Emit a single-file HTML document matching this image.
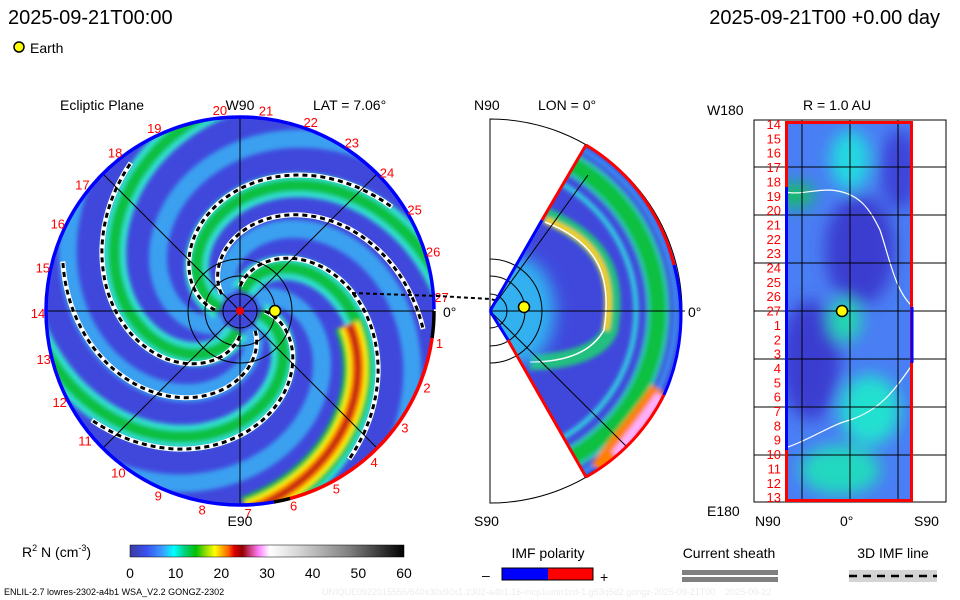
<!DOCTYPE html>
<html><head><meta charset="utf-8"><style>
body{margin:0;background:#fff}
svg{display:block;font-family:"Liberation Sans",sans-serif}
</style></head><body>
<svg id="s" width="960" height="600" viewBox="0 0 960 600">
<defs>
<clipPath id="cc"><circle cx="240" cy="311" r="194"/></clipPath>
<clipPath id="wc"><path d="M490,311 L586,145 A192,192 0 0 1 586,477 Z"/></clipPath>
<clipPath id="rc"><rect x="785" y="122" width="128" height="380"/></clipPath>
<filter id="bl" x="-50%" y="-50%" width="200%" height="200%"><feGaussianBlur stdDeviation="8"/></filter>
<filter id="bl2"><feGaussianBlur stdDeviation="3"/></filter>
<filter id="bl3"><feGaussianBlur stdDeviation="2"/></filter>
<linearGradient id="cb" x1="0" x2="1" y1="0" y2="0">
<stop offset="0" stop-color="#3c3ca0"/><stop offset="0.06" stop-color="#3a50f0"/><stop offset="0.12" stop-color="#3aa0ff"/>
<stop offset="0.16" stop-color="#00ffff"/><stop offset="0.2" stop-color="#00d080"/><stop offset="0.24" stop-color="#00c000"/>
<stop offset="0.28" stop-color="#a0e000"/><stop offset="0.31" stop-color="#ffff00"/><stop offset="0.34" stop-color="#ffa000"/>
<stop offset="0.36" stop-color="#ff6000"/><stop offset="0.38" stop-color="#e00000"/><stop offset="0.41" stop-color="#900000"/>
<stop offset="0.44" stop-color="#d04080"/><stop offset="0.47" stop-color="#ff80ff"/><stop offset="0.51" stop-color="#ffffff"/>
<stop offset="0.6" stop-color="#dcdcdc"/><stop offset="0.8" stop-color="#808080"/><stop offset="1" stop-color="#000"/>
</linearGradient>
</defs>

<text x="8" y="24" font-size="20">2025-09-21T00:00</text>
<text x="940" y="24" font-size="20" text-anchor="end">2025-09-21T00 +0.00 day</text>
<circle cx="19" cy="47" r="5" fill="#ffff00" stroke="#000" stroke-width="1.5"/>
<text x="30" y="53" font-size="14">Earth</text>

<g>
<circle cx="240" cy="311" r="194" fill="#4048dc"/>
<g id="arms" clip-path="url(#cc)"></g>
<g stroke="#000" stroke-width="1" fill="none">
<line x1="46" y1="311" x2="434" y2="311"/><line x1="240" y1="117" x2="240" y2="505"/>
<line x1="103" y1="174" x2="377" y2="448"/><line x1="103" y1="448" x2="377" y2="174"/>
<circle cx="240" cy="311" r="17"/><circle cx="240" cy="311" r="35"/><circle cx="240" cy="311" r="52"/>
</g>
<g id="rim"></g>
<circle cx="240" cy="311" r="4" fill="#e00"/>
<circle cx="275" cy="311" r="5.5" fill="#ffff00" stroke="#000" stroke-width="1.5"/>
<g id="days" fill="#f00" font-size="13"></g>
<text x="60" y="110" font-size="14">Ecliptic Plane</text>
<text x="240" y="110" font-size="14" text-anchor="middle">W90</text>
<text x="313" y="110" font-size="14">LAT = 7.06°</text>
<text x="240" y="526" font-size="14" text-anchor="middle">E90</text>
<text x="443" y="317" font-size="14">0°</text>
</g>
<path d="M352,293 L438,296 L490,299 L525,307" stroke="#000" stroke-width="2" stroke-dasharray="4,3" fill="none"/>

<g>
<path d="M490,119 A192,192 0 0 1 490,503 Z" fill="none" stroke="#000" stroke-width="1"/>
<g clip-path="url(#wc)">
<rect x="480" y="130" width="220" height="360" fill="#4048dc"/>
<g filter="url(#bl3)">
<circle cx="490" cy="311" r="168" fill="none" stroke="#30c0c0" stroke-width="24"/>
<circle cx="490" cy="311" r="168" fill="none" stroke="#10c040" stroke-width="16"/>
<circle cx="490" cy="311" r="146" fill="none" stroke="#30d0e0" stroke-width="5"/>
<circle cx="490" cy="311" r="186" fill="none" stroke="#3a90f0" stroke-width="5"/>
<path d="M545,215 C600,240 620,270 610,330 C600,355 560,362 530,362" fill="none" stroke="#20c080" stroke-width="16"/>
<path d="M545,220 C600,240 615,275 606,330" fill="none" stroke="#ffd000" stroke-width="6"/>
<path d="M600,470 C620,440 640,420 660,390" fill="none" stroke="#ff8000" stroke-width="20"/>
<path d="M615,455 C630,435 645,418 660,395" fill="none" stroke="#ffb0ff" stroke-width="9"/>
</g>
<path d="M545,222 C600,243 612,278 604,330 C590,355 560,362 530,362" fill="none" stroke="#fff" stroke-width="1.5"/>
<ellipse cx="515" cy="311" rx="40" ry="55" fill="#30b0f0" filter="url(#bl)"/>
</g>
<g stroke="#000" stroke-width="1" fill="none">
<line x1="490" y1="311" x2="685" y2="311"/><line x1="490" y1="311" x2="588" y2="175"/><line x1="490" y1="311" x2="626" y2="446"/>
<path d="M490,294 A17,17 0 0 1 490,328"/><path d="M490,276 A35,35 0 0 1 490,346"/><path d="M490,259 A52,52 0 0 1 490,363"/>
</g>
<path d="M586,145 A192,192 0 0 1 674,265" fill="none" stroke="#f00" stroke-width="3"/>
<path d="M674,265 A192,192 0 0 1 664,395" fill="none" stroke="#00f" stroke-width="3"/>
<path d="M664,395 A192,192 0 0 1 586,477" fill="none" stroke="#f00" stroke-width="3"/>
<path d="M490,311 L542,220 M490,311 L508,340" stroke="#00f" stroke-width="3"/>
<path d="M542,220 L586,145 M508,340 L586,477" stroke="#f00" stroke-width="3"/>
<circle cx="524" cy="307" r="5.5" fill="#ffff00" stroke="#000" stroke-width="1.5"/>
<text x="474" y="110" font-size="14">N90</text>
<text x="538" y="110" font-size="14">LON = 0°</text>
<text x="474" y="526" font-size="14">S90</text>
<text x="688" y="317" font-size="14">0°</text>
</g>

<g>
<rect x="754" y="120" width="192" height="382" fill="none" stroke="#000" stroke-width="1"/>
<g clip-path="url(#rc)">
<rect x="785" y="122" width="128" height="380" fill="#4a7ef4"/>
<g filter="url(#bl)">
<ellipse cx="860" cy="250" rx="35" ry="55" fill="#3a3ed0"/>
<ellipse cx="810" cy="360" rx="30" ry="60" fill="#3a3ed0"/>
<ellipse cx="900" cy="170" rx="20" ry="40" fill="#3c44d8"/>
<ellipse cx="795" cy="195" rx="20" ry="12" fill="#10c060"/>
<ellipse cx="845" cy="320" rx="16" ry="22" fill="#20d8b0"/>
<ellipse cx="870" cy="410" rx="30" ry="35" fill="#20e0d0"/>
<ellipse cx="840" cy="470" rx="40" ry="25" fill="#20d8c0"/>
<ellipse cx="850" cy="160" rx="20" ry="30" fill="#20d8e0"/>
</g>
</g>
<path d="M785,192 C800,195 810,190 830,190 C860,192 870,210 880,230 C890,260 895,290 912,306" fill="none" stroke="#fff" stroke-width="1.2"/>
<path d="M785,448 C810,440 830,425 850,420 C880,410 895,390 912,365" fill="none" stroke="#fff" stroke-width="1.2"/>
<g stroke="#000" stroke-width="1">
<line x1="802" y1="120" x2="802" y2="502"/><line x1="850" y1="120" x2="850" y2="502"/><line x1="898" y1="120" x2="898" y2="502"/>
<line x1="754" y1="167" x2="946" y2="167"/><line x1="754" y1="215" x2="946" y2="215"/><line x1="754" y1="263" x2="946" y2="263"/>
<line x1="754" y1="311" x2="946" y2="311"/><line x1="754" y1="359" x2="946" y2="359"/><line x1="754" y1="407" x2="946" y2="407"/><line x1="754" y1="455" x2="946" y2="455"/>
</g>
<rect x="786.5" y="122.5" width="125" height="378" fill="none" stroke="#f00" stroke-width="3"/>
<line x1="786.5" y1="187" x2="786.5" y2="450" stroke="#00f" stroke-width="3"/>
<line x1="912" y1="307" x2="912" y2="363" stroke="#00f" stroke-width="3"/>
<circle cx="842" cy="311" r="5.5" fill="#ffff00" stroke="#000" stroke-width="1.5"/>
<g id="rlabels" fill="#f00" font-size="13" text-anchor="end"></g>
<text x="707" y="115" font-size="14">W180</text>
<text x="803" y="110" font-size="14">R = 1.0 AU</text>
<text x="707" y="516" font-size="14">E180</text>
<text x="755" y="526" font-size="14">N90</text>
<text x="840" y="526" font-size="14">0°</text>
<text x="914" y="526" font-size="14">S90</text>
</g>

<g>
<text x="22" y="557" font-size="14">R<tspan font-size="9" dy="-6">2</tspan><tspan dy="6"> N (cm</tspan><tspan font-size="9" dy="-6">-3</tspan><tspan dy="6">)</tspan></text>
<rect x="130" y="545" width="274" height="12" fill="url(#cb)" stroke="#000" stroke-width="0.5"/>
<g id="cbticks" font-size="14" text-anchor="middle"></g>
</g>
<g>
<text x="548" y="558" font-size="14" text-anchor="middle">IMF polarity</text>
<rect x="502" y="568" width="46" height="12" fill="#00f"/><rect x="548" y="568" width="45" height="12" fill="#f00"/>
<rect x="502" y="568" width="91" height="12" fill="none" stroke="#000" stroke-width="1"/>
<text x="482" y="580" font-size="14">–</text><text x="600" y="582" font-size="14">+</text>
</g>
<g>
<text x="729" y="558" font-size="14" text-anchor="middle">Current sheath</text>
<rect x="682" y="570" width="96" height="5" fill="#808080"/><rect x="682" y="577" width="96" height="5" fill="#808080"/>
</g>
<g>
<text x="893" y="558" font-size="14" text-anchor="middle">3D IMF line</text>
<rect x="849" y="570" width="88" height="12" fill="#d4d4d4"/>
<line x1="849" y1="576" x2="937" y2="576" stroke="#000" stroke-width="2.5" stroke-dasharray="8,6"/>
</g>
<text x="4" y="595" font-size="9">ENLIL-2.7 lowres-2302-a4b1 WSA_V2.2 GONGZ-2302</text>
<text x="322" y="595" font-size="9" fill="#ececec">UNIQUE0922015556/640x30x90x1.2302-a4b1.16-mcp1umn1cd-1.g53q5d2.gongz-2025-09-21T00 &#160;&#160; 2025-09-22</text>
</svg>
<script>
const days=[20,21,22,23,24,25,26,27,1,2,3,4,5,6,7,8,9,10,11,12,13,14,15,16,17,18,19];
const rightLabels=[14,15,16,17,18,19,20,21,22,23,24,25,26,27,1,2,3,4,5,6,7,8,9,10,11,12,13];
const cbTicks=[0,10,20,30,40,50,60];
const armPhases=[100,190,280,10];
const cyanPhases=[145,235,325,55];
const dashPhases=[112,200,292,22,160,330];
const cmePhase=[100];
const NS="http://www.w3.org/2000/svg";
const cx=240,cy=311,K=0.9;
function pt(r,th){const a=th*Math.PI/180;return [cx+r*Math.cos(a),cy-r*Math.sin(a)];}
function spiral(ph,r0,r1){let d="";for(let r=r0;r<=r1;r+=3){const p=pt(r,ph-K*r);d+=(r===r0?"M":"L")+p[0].toFixed(1)+","+p[1].toFixed(1);}return d;}
function mk(tag,attrs,parent){const e=document.createElementNS(NS,tag);for(const k in attrs)e.setAttribute(k,attrs[k]);parent.appendChild(e);return e;}
const arms=document.getElementById("arms");
const blurG=mk("g",{filter:"url(#bl3)"},arms);
cyanPhases.forEach(ph=>{
  const e=mk("path",{d:spiral(ph,20,240),stroke:"#3aa0f0","stroke-width":18,fill:"none"},blurG);
  
  
});
armPhases.forEach(ph=>{
  const e0=mk("path",{d:spiral(ph,20,240),stroke:"#30e0d0","stroke-width":24,fill:"none"},blurG);
  
  
  const e=mk("path",{d:spiral(ph,20,240),stroke:"#10c040","stroke-width":12,fill:"none"},blurG);
  
  
});
cmePhase.forEach(ph=>{
  [["#10c040",30],["#ffff00",20],["#ff8000",13],["#c01010",6]].forEach(([c,w])=>{
    const e=mk("path",{d:spiral(ph-8,110,200),stroke:c,"stroke-width":w,fill:"none"},blurG);
    
    
  });
});
dashPhases.forEach(ph=>{
  const e1=mk("path",{d:spiral(ph,25,185),stroke:"#fff","stroke-width":5,fill:"none"},arms);
  
  
  const e2=mk("path",{d:spiral(ph,25,185),stroke:"#000","stroke-width":3,"stroke-dasharray":"5,4",fill:"none"},arms);
  
  
});
const rim=document.getElementById("rim");
function arc(a0,a1,c){const p0=pt(194,a0),p1=pt(194,a1);const large=Math.abs(a1-a0)>180?1:0;
 const e=mk("path",{d:`M${p0[0].toFixed(2)},${p0[1].toFixed(2)} A194,194 0 ${large} 1 ${p1[0].toFixed(2)},${p1[1].toFixed(2)}`,stroke:c,"stroke-width":3.5,fill:"none"},rim);
 
 }
arc(-80,-359.5,"#00f");arc(0,-8,"#000");arc(-8,-75,"#f00");arc(-75,-80,"#000");
const dg=document.getElementById("days");
days.forEach((d,i)=>{const p=pt(202,95.7-13.1*i);
 const t=mk("text",{x:p[0].toFixed(1),y:(p[1]+5).toFixed(1),"text-anchor":"middle"},dg);t.textContent=d;
 
 });
const rg=document.getElementById("rlabels");
rightLabels.forEach((d,i)=>{const t=mk("text",{x:781,y:(129+i*14.35).toFixed(1)},rg);t.textContent=d;
 
 });
const cg=document.getElementById("cbticks");
cbTicks.forEach(v=>{const x=130+v/60*274;const t=mk("text",{x:x,y:578},cg);t.textContent=v;
 
 });
</script>
</body></html>
